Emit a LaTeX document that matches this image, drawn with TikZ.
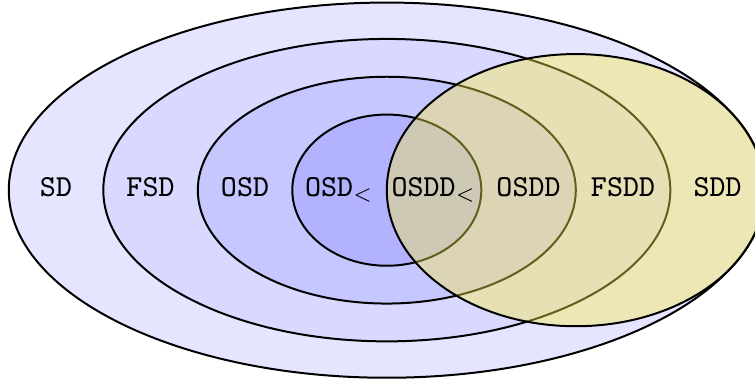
\documentclass[tikz,border=0pt]{standalone}
\definecolor{sddfill}{RGB}{250,236,70}
\begin{document}
\begin{tikzpicture}[
  setline/.style={draw=black, semithick},
  lbl/.style={font=\fontsize{9.2}{11}\selectfont\ttfamily, inner sep=0pt, anchor=base}
]
\useasboundingbox (-4.093,-2.041) rectangle (3.896,2.012);
\filldraw[setline, fill=blue!10] (0,0) ellipse [x radius=4, y radius=1.985];
\filldraw[setline, fill=blue!15] (0,0) ellipse [x radius=3, y radius=1.6];
\filldraw[setline, fill=blue!22] (0,0) ellipse [x radius=2, y radius=1.2];
\filldraw[setline, fill=blue!30] (0,0) ellipse [x radius=1, y radius=0.8];
\filldraw[setline, fill=sddfill, fill opacity=0.4] (2,0) ellipse [x radius=2, y radius=1.44];
\node[lbl] (sd)    at (-3.5,-0.07) {SD};
\node[lbl] (fsd)   at (-2.5,-0.07) {FSD};
\node[lbl] (osd)   at (-1.5,-0.07) {OSD};
\node[lbl] (osdl)  at (-0.5,-0.07) {OSD$_<$};
\node[lbl] (osddl) at (0.5,-0.07)  {OSDD$_<$};
\node[lbl] (osdd)  at (1.5,-0.07)  {OSDD};
\node[lbl] (fsdd)  at (2.5,-0.07)  {FSDD};
\node[lbl] (sdd)   at (3.5,-0.07)  {SDD};
\end{tikzpicture}
\end{document}
